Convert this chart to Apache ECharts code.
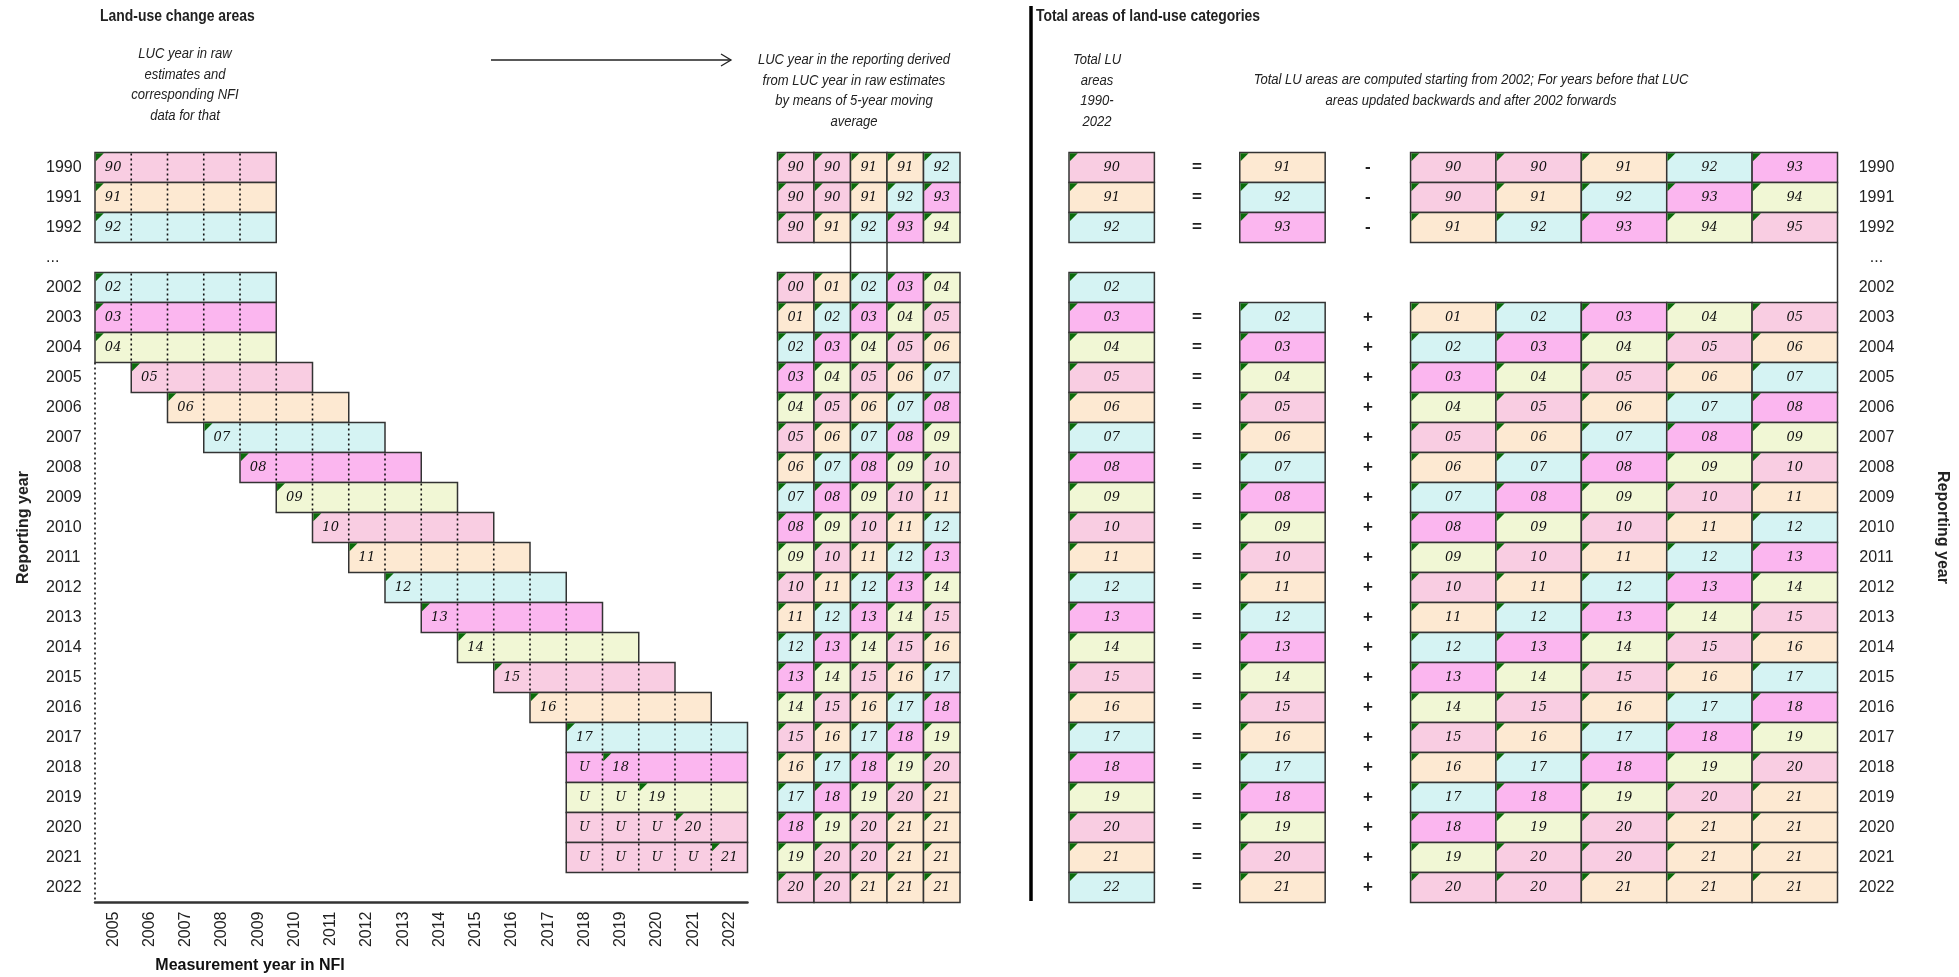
<!DOCTYPE html>
<html><head><meta charset="utf-8">
<script src="https://cdn.jsdelivr.net/npm/echarts@6/dist/echarts.min.js"></script>
<style>html,body{margin:0;padding:0;background:#fff}#c{width:1959px;height:977px}</style>
</head><body><div id="c"></div>
<script>
// ---------- categories / tick labels ----------
const rowYears = ['1990','1991','1992','...','2002','2003','2004','2005','2006','2007','2008','2009','2010','2011','2012','2013','2014','2015','2016','2017','2018','2019','2020','2021','2022'];
const measYears = ['2005','2006','2007','2008','2009','2010','2011','2012','2013','2014','2015','2016','2017','2018','2019','2020','2021','2022'];

// ---------- left panel: raw LUC estimates ----------
const rawStartCol = [0,0,0,null,0,0,0,1,2,3,4,5,6,7,8,9,10,11,12,13,13,13,13,13,null];
const rawLabel    = ['90','91','92',null,'02','03','04','05','06','07','08','09','10','11','12','13','14','15','16','17','18','19','20','21',null];
const rawUCount   = [0,0,0,null,0,0,0,0,0,0,0,0,0,0,0,0,0,0,0,0,1,2,3,4,null];
const rawColorKey = [0,1,2,null,2,3,4,0,1,2,3,4,0,1,2,3,4,0,1,2,3,4,0,0,null];

// ---------- middle panel: 5-year moving average ----------
const maRows = [
 ['90','90','91','91','92'],
 ['90','90','91','92','93'],
 ['90','91','92','93','94'],
 null,
 ['00','01','02','03','04'],
 ['01','02','03','04','05'],
 ['02','03','04','05','06'],
 ['03','04','05','06','07'],
 ['04','05','06','07','08'],
 ['05','06','07','08','09'],
 ['06','07','08','09','10'],
 ['07','08','09','10','11'],
 ['08','09','10','11','12'],
 ['09','10','11','12','13'],
 ['10','11','12','13','14'],
 ['11','12','13','14','15'],
 ['12','13','14','15','16'],
 ['13','14','15','16','17'],
 ['14','15','16','17','18'],
 ['15','16','17','18','19'],
 ['16','17','18','19','20'],
 ['17','18','19','20','21'],
 ['18','19','20','21','21'],
 ['19','20','20','21','21'],
 ['20','20','21','21','21']
];

// ---------- right panel: total LU areas ----------
const totals  = ['90','91','92',null,'02','03','04','05','06','07','08','09','10','11','12','13','14','15','16','17','18','19','20','21','22'];
const seconds = ['91','92','93',null,null,'02','03','04','05','06','07','08','09','10','11','12','13','14','15','16','17','18','19','20','21'];
const ops     = ['-','-','-',null,null,'+','+','+','+','+','+','+','+','+','+','+','+','+','+','+','+','+','+','+','+'];
const blocks = [
 ['90','90','91','92','93'],
 ['90','91','92','93','94'],
 ['91','92','93','94','95'],
 null,
 null,
 ['01','02','03','04','05'],
 ['02','03','04','05','06'],
 ['03','04','05','06','07'],
 ['04','05','06','07','08'],
 ['05','06','07','08','09'],
 ['06','07','08','09','10'],
 ['07','08','09','10','11'],
 ['08','09','10','11','12'],
 ['09','10','11','12','13'],
 ['10','11','12','13','14'],
 ['11','12','13','14','15'],
 ['12','13','14','15','16'],
 ['13','14','15','16','17'],
 ['14','15','16','17','18'],
 ['15','16','17','18','19'],
 ['16','17','18','19','20'],
 ['17','18','19','20','21'],
 ['18','19','20','21','21'],
 ['19','20','20','21','21'],
 ['20','20','21','21','21']
];

// ---------- style ----------
const palette = ['#F9CDE2','#FDE9D2','#D5F3F3','#FBB6EF','#F1F7D5'];
const BORDER = '#333';
const TRI = '#0B6B0B';
const NUM_FONT = 'italic 13px "DejaVu Serif", "Liberation Serif", serif';
const LBL_FAMILY = '"Liberation Sans", Arial, sans-serif';
const NARROW = 0.87;

function keyOf(lbl){ const v = parseInt(lbl,10); const y = v >= 50 ? 1900 + v : 2000 + v; return (y - 1990) % 5; }
function tri(x, y){ return {type:'polygon', shape:{points:[[x,y],[x+8,y],[x,y+8]]}, style:{fill:TRI}}; }
function num(x, y, t){ return {type:'text', x:x, y:y, style:{text:t, font:NUM_FONT, fill:'#111', align:'center', verticalAlign:'middle'}}; }
function cell(x, y, w, h, fill, t){
  return [
    {type:'rect', shape:{x:x, y:y, width:w, height:h}, style:{fill:fill, stroke:BORDER, lineWidth:1.5}},
    tri(x + 0.8, y + 0.8),
    num(x + w/2, y + h/2, t)
  ];
}

// left panel renderer
function renderRaw(params, api){
  const i = api.value(1);
  const start = rawStartCol[i];
  const c = api.coord([start, i]);
  const s = api.size([1, 1]);
  const bw = s[0], bh = s[1];
  const x0 = c[0] - bw/2, y0 = c[1] - bh/2;
  const ch = [];
  ch.push({type:'rect', shape:{x:x0, y:y0, width:bw*5, height:bh}, style:{fill:palette[rawColorKey[i]], stroke:BORDER, lineWidth:1.5}});
  for (let k = 1; k < 5; k++) {
    ch.push({type:'line', shape:{x1:x0 + k*bw, y1:y0 + 1, x2:x0 + k*bw, y2:y0 + bh - 1}, style:{stroke:'#111', lineWidth:1.6, lineDash:[2,3]}});
  }
  const u = rawUCount[i];
  for (let k = 0; k < u; k++) ch.push(num(x0 + k*bw + bw/2, y0 + bh/2, 'U'));
  ch.push(tri(x0 + u*bw + 0.8, y0 + 0.8));
  ch.push(num(x0 + u*bw + bw/2, y0 + bh/2, rawLabel[i]));
  return {type:'group', children:ch};
}
// dotted left edge of the measurement grid
function renderGuide(params, api){
  const c0 = api.coord([api.value(0), api.value(1)]);
  const c1 = api.coord([api.value(0), api.value(2)]);
  const s = api.size([1, 1]);
  const x = c0[0] - s[0]/2;
  return {type:'line', shape:{x1:x, y1:c0[1] - s[1]/2, x2:x, y2:c1[1] + s[1]/2}, style:{stroke:'#111', lineWidth:1.6, lineDash:[2,3]}};
}
// connector lines between the 1992 and 2002/2003 rows
function renderConnector(params, api){
  const col = api.value(0), r0 = api.value(1), r1 = api.value(2), side = api.value(3);
  const c0 = api.coord([col, r0]);
  const c1 = api.coord([col, r1]);
  const s = api.size([1, 1]);
  const x = c0[0] + side * s[0]/2;
  return {type:'line', shape:{x1:x, y1:c0[1] + s[1]/2, x2:x, y2:c1[1] - s[1]/2}, style:{stroke:BORDER, lineWidth:1.5}};
}
// middle panel renderer (one cell per item)
function renderMA(params, api){
  const col = api.value(0), i = api.value(1);
  const c = api.coord([col, i]);
  const s = api.size([1, 1]);
  const t = maRows[i][col];
  return {type:'group', children:cell(c[0] - s[0]/2, c[1] - s[1]/2, s[0], s[1], palette[keyOf(t)], t)};
}
// right panel renderer (one row per item)
function renderTotal(params, api){
  const i = api.value(1);
  const s = api.size([1, 1]);
  const bw = s[0], bh = s[1];
  const ch = [];
  const put = (col, t) => { const c = api.coord([col, i]); ch.push(...cell(c[0] - bw/2, c[1] - bh/2, bw, bh, palette[keyOf(t)], t)); };
  const op = (colCenter, t) => { const c = api.coord([colCenter, i]); ch.push({type:'text', x:c[0], y:c[1], style:{text:t, font:'bold 17px "Liberation Sans", Arial, sans-serif', fill:'#222', align:'center', verticalAlign:'middle'}}); };
  if (totals[i]) put(0, totals[i]);
  if (seconds[i]) { op(1, '='); put(2, seconds[i]); }
  if (ops[i]) op(3, ops[i]);
  if (blocks[i]) for (let k = 0; k < 5; k++) put(4 + k, blocks[i][k]);
  return {type:'group', children:ch};
}

// data items
const rawItems = [];
rawStartCol.forEach((v, i) => { if (v !== null) rawItems.push([v, i]); });
const maItems = [];
maRows.forEach((r, i) => { if (r) r.forEach((_, k) => maItems.push([k, i])); });
const totItems = [];
rowYears.forEach((_, i) => { if (totals[i]) totItems.push([0, i]); });

const yCat = (show, extra) => Object.assign({
  type:'category', data:rowYears, inverse:true, boundaryGap:true,
  axisLine:{show:false}, axisTick:{show:false}, splitLine:{show:false},
  axisLabel:{show:show}
}, extra || {});

const GRID_TOP = 152.5, GRID_H = 750;

function ttext(x, y, text, font, align){
  return {type:'text', x:x, y:y, scaleX:NARROW, style:{text:text, font:font, fill:'#222', align:align || 'center', verticalAlign:'top', lineHeight:20.5}};
}

const option = {
  animation:false,
  backgroundColor:'#fff',
  grid:[
    {left:95, top:GRID_TOP, width:652.5, height:GRID_H},
    {left:777.5, top:GRID_TOP, width:182.5, height:GRID_H},
    {left:1069, top:GRID_TOP, width:768.5, height:GRID_H}
  ],
  xAxis:[
    {gridIndex:0, type:'category', data:measYears, boundaryGap:true,
     axisLine:{show:true, lineStyle:{color:'#333', width:2.5}}, axisTick:{show:false}, splitLine:{show:false},
     axisLabel:{rotate:90, margin:9, fontSize:16, color:'#222', fontFamily:LBL_FAMILY}},
    {gridIndex:1, type:'category', data:['a','b','c','d','e'], show:false},
    {gridIndex:2, type:'category', data:['t','eq','s','op','b1','b2','b3','b4','b5'], show:false}
  ],
  yAxis:[
    yCat(true, {gridIndex:0, position:'left',
      axisLabel:{show:true, align:'left', margin:49, fontSize:16, color:'#222', fontFamily:LBL_FAMILY},
      name:'Reporting year', nameLocation:'middle', nameRotate:90, nameGap:63,
      nameTextStyle:{fontSize:16, fontWeight:'bold', color:'#222', fontFamily:LBL_FAMILY}}),
    yCat(false, {gridIndex:1}),
    yCat(true, {gridIndex:2, position:'right',
      axisLabel:{show:true, align:'center', margin:39, fontSize:16, color:'#222', fontFamily:LBL_FAMILY},
      name:'Reporting year', nameLocation:'middle', nameRotate:-90, nameGap:97,
      nameTextStyle:{fontSize:16, fontWeight:'bold', color:'#222', fontFamily:LBL_FAMILY}})
  ],
  series:[
    {type:'custom', xAxisIndex:0, yAxisIndex:0, renderItem:renderGuide, data:[[0, 7, 24]], clip:false},
    {type:'custom', xAxisIndex:0, yAxisIndex:0, renderItem:renderRaw, data:rawItems, clip:false},
    {type:'custom', xAxisIndex:1, yAxisIndex:1, renderItem:renderConnector, data:[[2, 2, 4, -1],[2, 2, 4, 1]], clip:false},
    {type:'custom', xAxisIndex:1, yAxisIndex:1, renderItem:renderMA, data:maItems, clip:false},
    {type:'custom', xAxisIndex:2, yAxisIndex:2, renderItem:renderConnector, data:[[8, 2, 5, 1]], clip:false},
    {type:'custom', xAxisIndex:2, yAxisIndex:2, renderItem:renderTotal, data:totItems, clip:false}
  ],
  graphic:[
    ttext(100, 6, 'Land-use change areas', 'bold 16px ' + LBL_FAMILY, 'left'),
    ttext(185, 44, 'LUC year in raw\nestimates and\ncorresponding NFI\ndata for that', 'italic 15px ' + LBL_FAMILY),
    {type:'polyline', shape:{points:[[491,60],[731,60]]}, style:{stroke:'#222', lineWidth:1.3}},
    {type:'polyline', shape:{points:[[721,54],[731,60],[721,66]]}, style:{stroke:'#222', lineWidth:1.3, fill:null}},
    ttext(854, 50, 'LUC year in the reporting derived\nfrom LUC year in raw estimates\nby means of 5-year moving\naverage', 'italic 15px ' + LBL_FAMILY),
    {type:'line', shape:{x1:1031, y1:6, x2:1031, y2:901}, style:{stroke:'#000', lineWidth:3.5}},
    ttext(1036, 6, 'Total areas of land-use categories', 'bold 16px ' + LBL_FAMILY, 'left'),
    ttext(1097, 50, 'Total LU\nareas\n1990-\n2022', 'italic 15px ' + LBL_FAMILY),
    ttext(1471, 70, 'Total LU areas are computed starting from 2002; For years before that LUC\nareas updated backwards and after 2002 forwards', 'italic 15px ' + LBL_FAMILY),
    {type:'text', x:250, y:966, style:{text:'Measurement year in NFI', font:'bold 16px ' + LBL_FAMILY, fill:'#111', align:'center', verticalAlign:'middle'}}
  ]
};

const chart = echarts.init(document.getElementById('c'), null, {renderer:'canvas'});
chart.setOption(option);
</script>
</body></html>
